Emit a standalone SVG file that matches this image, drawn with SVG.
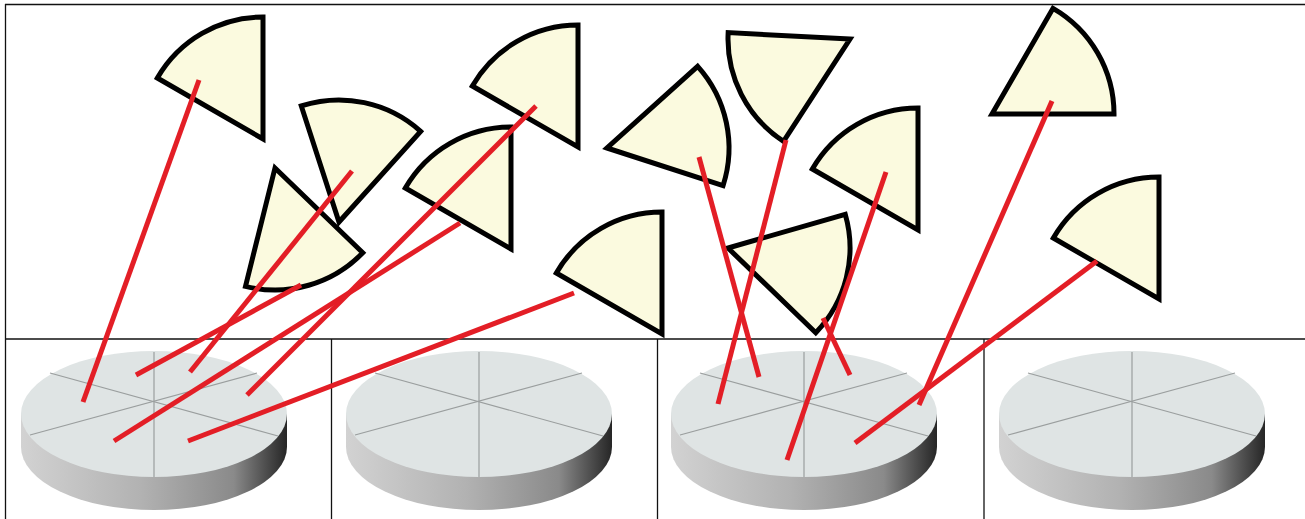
<svg xmlns="http://www.w3.org/2000/svg" width="1305" height="519" viewBox="0 0 1305 519">
<style>
.frame{stroke:#111;stroke-width:1.3;fill:none}
.wedge{fill:#fbfadf;stroke:#000;stroke-width:5;stroke-linejoin:miter}
.spoke{stroke:#9a9e9e;stroke-width:1.2}
.link{stroke:#e31e26;stroke-width:5;stroke-linecap:butt}
</style>
<defs>
<linearGradient id="side" x1="0" y1="0" x2="1" y2="0">
<stop offset="0" stop-color="#d2d2d2"/>
<stop offset="0.45" stop-color="#b2b2b2"/>
<stop offset="0.8" stop-color="#8a8a8a"/>
<stop offset="1" stop-color="#262626"/>
</linearGradient>
<path id="w" class="wedge" d="M0,0 L0,-122 A122,122 0 0 0 -105.66,-61 Z"/>
<g id="disc">
<path d="M-133,12 L-133,45 A133,63 0 0 0 133,45 L133,12 Z" fill="url(#side)"/>
<ellipse cx="0" cy="12" rx="133" ry="63" fill="#dfe4e4"/>
<line class="spoke" x1="-104" y1="-29" x2="124" y2="34"/>
<line class="spoke" x1="103" y1="-29" x2="-124" y2="33"/>
<line class="spoke" x1="0" y1="-50" x2="0" y2="75"/>
</g>
</defs>
<rect width="1305" height="519" fill="#fff"/>
<g id="frame">
<line class="frame" x1="5" y1="4.5" x2="1305" y2="4.5"/>
<line class="frame" x1="5.5" y1="4" x2="5.5" y2="519"/>
<line class="frame" x1="5" y1="339" x2="1305" y2="339"/>
<line class="frame" x1="331.5" y1="339" x2="331.5" y2="519"/>
<line class="frame" x1="657.5" y1="339" x2="657.5" y2="519"/>
<line class="frame" x1="984" y1="339" x2="984" y2="519"/>
</g>
<g id="disc1"><use href="#disc" transform="translate(154,402)"/></g>
<g id="disc2"><use href="#disc" transform="translate(479,402)"/></g>
<g id="disc3"><use href="#disc" transform="translate(804,402)"/></g>
<g id="disc4"><use href="#disc" transform="translate(1132,402)"/></g>
<g id="wedge1"><use href="#w" transform="translate(263,139)"/></g>
<g id="wedge2"><use href="#w" transform="translate(339,222) rotate(42)"/></g>
<g id="wedge3"><use href="#w" transform="translate(275,168) rotate(194)"/></g>
<g id="wedge4"><use href="#w" transform="translate(511,249)"/></g>
<g id="wedge5"><use href="#w" transform="translate(578,147)"/></g>
<g id="wedge6"><use href="#w" transform="translate(662,334)"/></g>
<g id="wedge7"><use href="#w" transform="translate(607,148) rotate(108)"/></g>
<g id="wedge8"><use href="#w" transform="translate(850,39) rotate(273)"/></g>
<g id="wedge9"><use href="#w" transform="translate(918,230)"/></g>
<g id="wedge10"><use href="#w" transform="translate(728,248) rotate(134)"/></g>
<g id="wedge11"><use href="#w" transform="translate(992,114) rotate(90)"/></g>
<g id="wedge12"><use href="#w" transform="translate(1159,299)"/></g>
<g id="connectors">
<line class="link" x1="199" y1="80" x2="83" y2="402"/>
<line class="link" x1="352" y1="171" x2="190" y2="372"/>
<line class="link" x1="301" y1="285" x2="136" y2="375"/>
<line class="link" x1="460" y1="223" x2="114" y2="441"/>
<line class="link" x1="536" y1="106" x2="247" y2="395"/>
<line class="link" x1="574" y1="293" x2="188" y2="441"/>
<line class="link" x1="699" y1="157" x2="759" y2="377"/>
<line class="link" x1="786" y1="140" x2="718" y2="404"/>
<line class="link" x1="886" y1="172" x2="787" y2="460"/>
<line class="link" x1="823" y1="318" x2="850" y2="375"/>
<line class="link" x1="1052" y1="101" x2="919" y2="405"/>
<line class="link" x1="1097" y1="261" x2="855" y2="443"/>
</g>
</svg>
